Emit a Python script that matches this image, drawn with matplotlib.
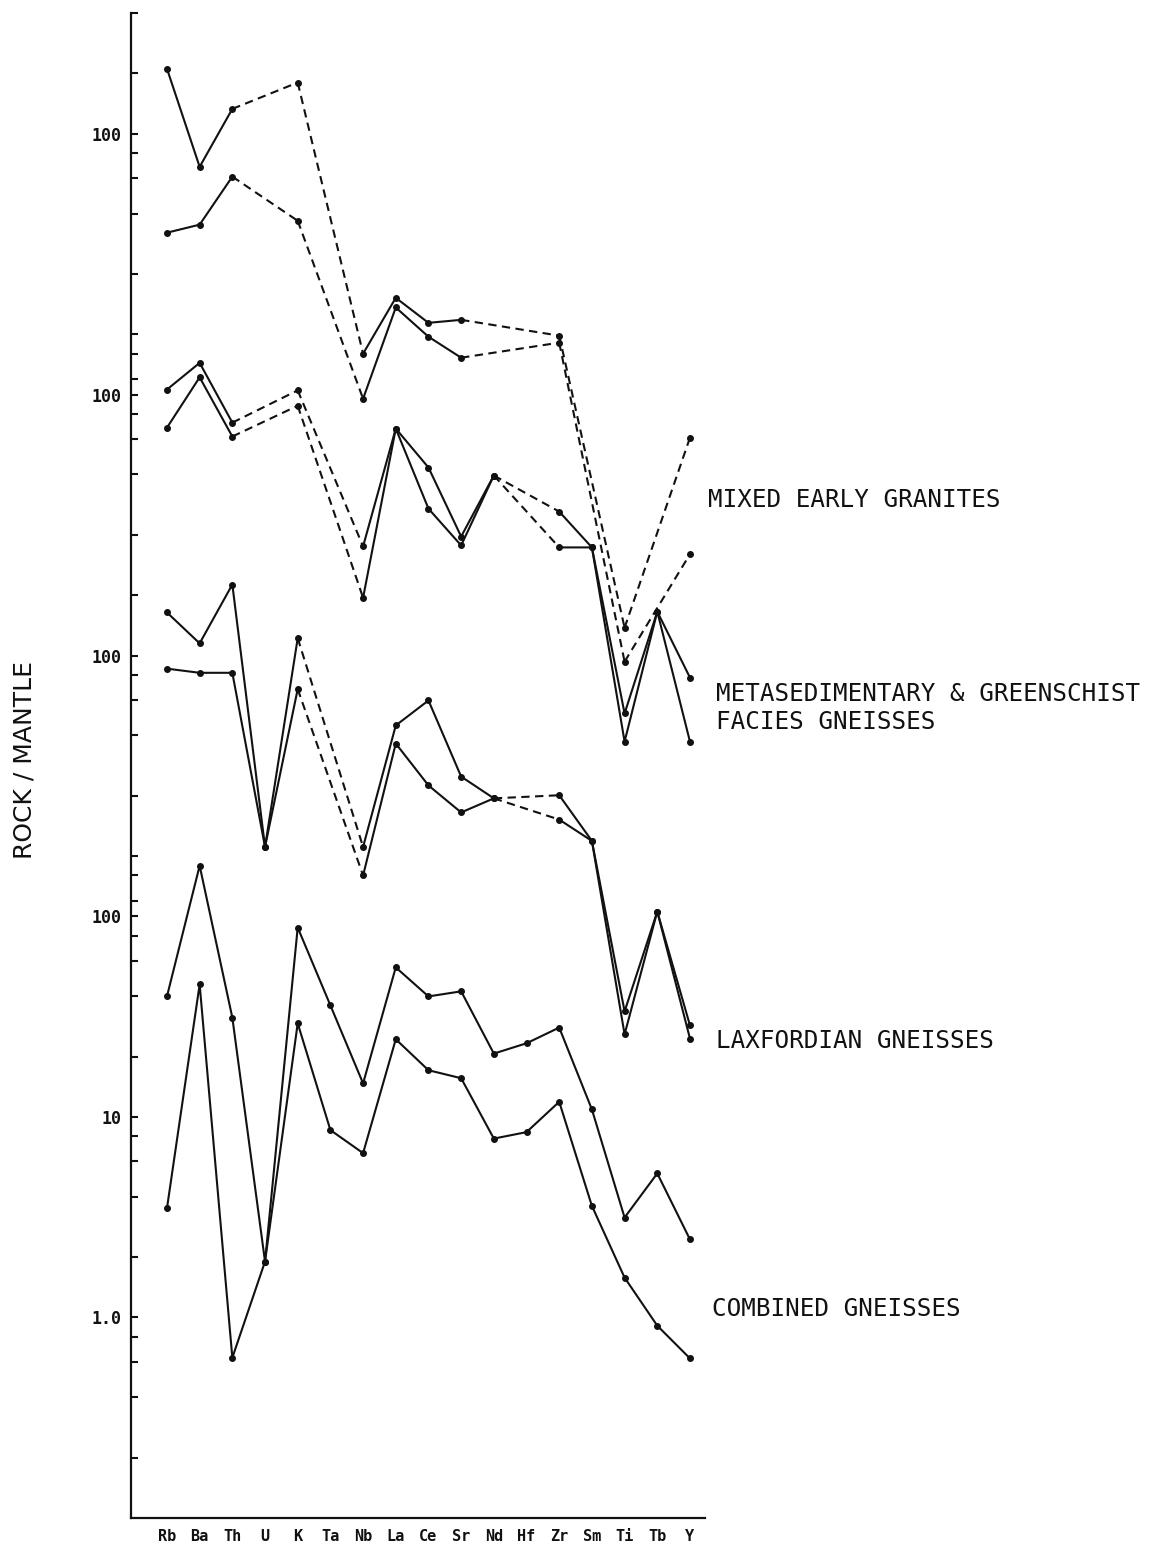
import numpy as np
import matplotlib
matplotlib.use("Agg")
import matplotlib.pyplot as plt

nan = np.nan

elements = ["Rb", "Ba", "Th", "U", "K", "Ta", "Nb", "La", "Ce", "Sr",
            "Nd", "Hf", "Zr", "Sm", "Ti", "Tb", "Y"]

# rock / mantle values (nan = not analysed)
granites_a = [211, 68.4, 133, nan, 180, nan, 8.0, 15.2, 11.4, 11.8,
              nan, nan, 9.84, nan, 0.344, nan, 3.05]
granites_b = [32.1, 35.2, 61.1, nan, 36.8, nan, 4.77, 13.6, 9.72, 7.64,
              nan, nan, 9.08, nan, 0.233, nan, 0.80]

metased_a = [106, 144, 72.5, nan, 105, nan, 17.5, 67.7, 43.3, 19.6,
             39.5, nan, 26.1, 17.3, 2.57, 8.28, 3.88]
metased_b = [68.4, 122, 61.8, nan, 88, nan, 9.7, 67.7, 27.0, 17.7,
             39.5, nan, 17.3, 17.3, 1.86, 8.28, 1.86]

laxford_a = [164, 115, 226, 11.1, 122, nan, 11.1, 44.8, 59.7, 24.9,
             19.4, nan, 20.1, 11.9, 1.68, 5.29, 1.43]
laxford_b = [86, 82, 82, 11.1, 68, nan, 8.0, 36.4, 22.5, 16.5,
             19.4, nan, 15.2, 11.9, 1.29, 5.29, 1.23]

combined_a = [39.9, 179, 31.3, 1.90, 88, 36, 14.7, 55.7, 39.9, 42.3,
              20.7, 23.3, 27.9, 10.9, 3.15, 5.23, 2.45]
combined_b = [3.5, 45.8, 0.63, 1.90, 29.3, 8.6, 6.6, 24.4, 17.1, 15.6,
              7.8, 8.4, 11.9, 3.6, 1.58, 0.91, 0.625]

# each diagram is shifted up by a factor 20 on the shared log axis
groups = [
    ("MIXED EARLY GRANITES", 8000, [granites_a, granites_b]),
    ("METASEDIMENTARY & GREENSCHIST\nFACIES GNEISSES", 400, [metased_a, metased_b]),
    ("LAXFORDIAN GNEISSES", 20, [laxford_a, laxford_b]),
    ("COMBINED GNEISSES", 1, [combined_a, combined_b]),
]

W, H = 1153, 1547
fig = plt.figure(figsize=(W / 100, H / 100), dpi=100)
ax = fig.add_axes([131 / W, 29 / H, (705 - 131) / W, (1518 - 13) / H])

ink = "#111111"
x = np.arange(len(elements))
for name, shift, series in groups:
    for vals in series:
        y = np.array(vals, dtype=float) * shift
        ax.plot(x, y, color=ink, lw=1.5, marker="o", ms=4)
        ok = np.where(~np.isnan(y))[0]
        for i, j in zip(ok[:-1], ok[1:]):
            if j - i > 1:
                ax.plot([x[i], x[j]], [y[i], y[j]], color=ink, lw=1.5,
                        dashes=(4, 2.6))

ax.set_yscale("log")
ax.set_ylim(0.1, 3.2e6)
ax.set_xlim(-1.1, 16.46)

# tick marks, per diagram, in that diagram's own units
marks = [(8000, [400, 200, 100, 80, 60, 40, 20, 10, 8, 6]),
         (400, [100, 80, 60, 40, 20, 10]),
         (20, [100, 80, 60, 40, 20, 10, 8, 6]),
         (1, [100, 80, 60, 40, 20, 10, 8, 6, 4, 2, 1, 0.8, 0.6, 0.4, 0.2])]
ticks = sorted(set(round(s * v, 6) for s, vals in marks for v in vals))
labelled = {100 * 8000: "100", 100 * 400: "100", 100 * 20: "100",
            100: "100", 10: "10", 1: "1.0"}
ax.set_yticks(ticks)
ax.set_yticklabels([labelled.get(t, "") for t in ticks])
ax.yaxis.set_minor_locator(matplotlib.ticker.NullLocator())
ax.tick_params(axis="y", direction="in", length=5, width=1.5, pad=7,
               labelsize=12, colors=ink)
for lab in ax.get_yticklabels():
    lab.set_fontfamily("DejaVu Sans Mono")
    lab.set_fontweight("bold")

ax.set_xticks(x)
ax.set_xticklabels(elements, fontsize=11, fontweight="bold",
                   fontfamily="DejaVu Sans Mono")
ax.tick_params(axis="x", length=0, pad=8, colors=ink)

for side in ["top", "right"]:
    ax.spines[side].set_visible(False)
for side in ["left", "bottom"]:
    ax.spines[side].set_linewidth(1.6)
    ax.spines[side].set_color(ink)

label_pos = [(708, 500), (716, 708), (716, 1041), (712, 1309)]
for (name, shift, series), (px, py) in zip(groups, label_pos):
    fig.text(px / W, 1 - py / H, name, fontsize=17.5, family="DejaVu Sans Mono",
             color=ink, va="center", ha="left", linespacing=1.2)

fig.text(25 / W, 1 - 760 / H, "ROCK / MANTLE", rotation=90, fontsize=18,
         color=ink, va="center", ha="center")

fig.savefig("out.png", dpi=100, facecolor="white")
